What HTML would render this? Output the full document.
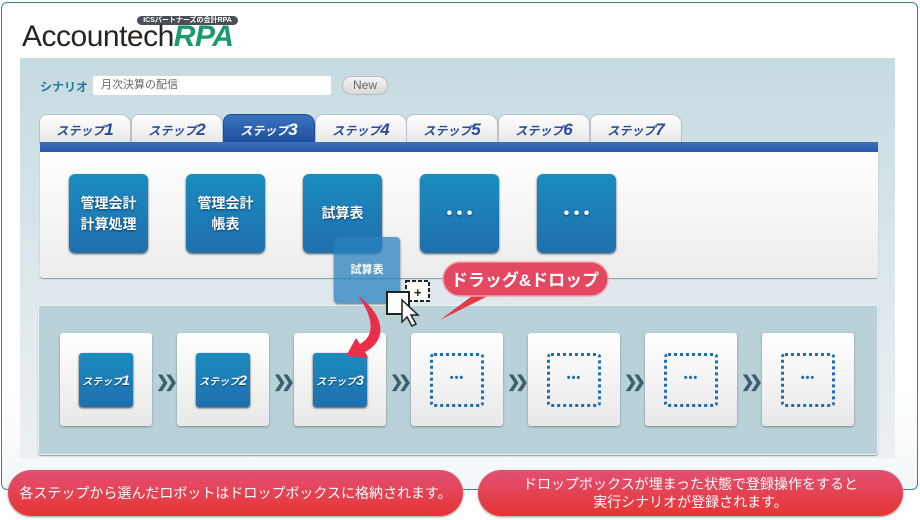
<!DOCTYPE html>
<html><head><meta charset="utf-8"><style>
*{margin:0;padding:0;box-sizing:border-box}
body{width:920px;height:520px;background:#fff;position:relative;overflow:hidden;font-family:"Liberation Sans","Noto Sans CJK JP",sans-serif}
.a{position:absolute}
.outer{left:1px;top:2px;width:917px;height:488px;border:1.5px solid #2f8a86;border-radius:6px;background:linear-gradient(#fff 80%,#f2f6f8)}
.panel{left:20px;top:58px;width:875px;height:400px;background:linear-gradient(#c5dbe1,#dfe9ed 60%,#eaf0f3);}
.tab{top:114px;height:29px;width:92px;border-radius:8px 10px 0 0;background:linear-gradient(#fff,#e6e6e6);border:1px solid #b8c2c6;border-bottom:none;color:#2f4a9c;font-style:italic;font-weight:bold;font-size:12px;text-align:center;line-height:29px}
.tab b{font-size:17px}
.tab.on{background:linear-gradient(#3a73bd,#1f4e9e);color:#fff;border-color:#1f4e9e}
.bar{left:40px;top:142px;width:838px;height:10px;background:linear-gradient(#3d6fbd,#2a58a8)}
.white{left:40px;top:152px;width:838px;height:126px;background:linear-gradient(#fff,#ececec);border-radius:0 0 3px 3px;box-shadow:0 1px 1px #8a9aa0}
.bx{top:174px;width:79px;height:79px;border-radius:6px;background:linear-gradient(#1a8cc0,#1f6fae);box-shadow:0 1px 2px #555;color:#fff;font-weight:bold;font-size:14px;display:flex;align-items:center;justify-content:center;text-align:center;line-height:21px;text-shadow:0 1px 2px #0a3a60}
.low{left:38px;top:305px;width:840px;height:150px;background:#b9d1d8;border-radius:3px;border:1px solid #e8f0f2;box-shadow:0 1px 1px #999}
.slot{top:333px;width:92px;height:93px;background:linear-gradient(#fff,#e8e8e8);border-radius:3px;box-shadow:0 1px 2px #7a8a90}
.ib{position:absolute;left:19px;top:20px;width:54px;height:54px;border-radius:3px;background:linear-gradient(#1a8cc0,#1f6fae);box-shadow:0 1px 2px #444;color:#fff;font-style:italic;font-weight:bold;font-size:10px;display:flex;align-items:center;justify-content:center;text-shadow:0 1px 1px #0a3a60}
.ib b{font-size:14px}
.db{position:absolute;left:19px;top:20px;width:54px;height:54px;border:3px dotted #1d6eb2;border-radius:4px;color:#1d6eb2;font-size:11px;font-weight:bold;text-align:center;line-height:44px;letter-spacing:1px}
.chev{top:372px;color:#3d5f6c;font-size:16px;font-weight:bold;letter-spacing:-5px}
.pill{top:470px;height:46px;border-radius:23px;background:linear-gradient(#e35074,#e53532);color:#fff;font-size:14px;text-align:center;display:flex;align-items:center;justify-content:center;box-shadow:0 1px 2px #999;line-height:18px}
</style></head><body>
<div class="a outer"></div>
<div class="a" style="left:137px;top:16px;width:101px;height:9px;border-radius:5px;background:#4a4f55;color:#fff;font-size:7px;font-weight:bold;text-align:center;line-height:9px">ICSパートナーズの会計RPA</div>
<div class="a" style="left:22px;top:22px;font-size:30px;color:#2a2420;letter-spacing:-0.5px;line-height:30px;font-weight:300">Accountech<span style="color:#1a9a6a;font-weight:bold;font-style:italic">RPA</span></div>
<div class="a panel"></div>
<div class="a" style="left:40px;top:78px;font-size:12px;color:#2a7aa0;font-weight:bold">シナリオ</div>
<div class="a" style="left:92px;top:75px;width:240px;height:21px;background:#fff;border:1px solid #d0dadd;border-radius:3px;font-size:11px;color:#666;padding-left:8px;line-height:19px">月次決算の配信</div>
<div class="a" style="left:342px;top:76px;width:46px;height:19px;border-radius:10px;background:linear-gradient(#f4f4f4,#d8d8d8);border:1px solid #bbb;font-size:12px;color:#666;text-align:center;line-height:17px">New</div>
<div class="a tab" style="left:39px">ステップ<b>1</b></div>
<div class="a tab" style="left:131px">ステップ<b>2</b></div>
<div class="a tab on" style="left:223px">ステップ<b>3</b></div>
<div class="a tab" style="left:315px">ステップ<b>4</b></div>
<div class="a tab" style="left:406px">ステップ<b>5</b></div>
<div class="a tab" style="left:498px">ステップ<b>6</b></div>
<div class="a tab" style="left:590px">ステップ<b>7</b></div>
<div class="a bar"></div>
<div class="a white"></div>
<div class="a bx" style="left:69px">管理会計<br>計算処理</div>
<div class="a bx" style="left:186px">管理会計<br>帳表</div>
<div class="a bx" style="left:303px">試算表</div>
<div class="a bx" style="left:420px;font-size:16px">• • •</div>
<div class="a bx" style="left:537px;font-size:16px">• • •</div>
<div class="a low"></div>
<div class="a slot" style="left:60px"><div class="ib">ステップ<b>1</b></div></div>
<div class="a slot" style="left:177px"><div class="ib">ステップ<b>2</b></div></div>
<div class="a slot" style="left:294px"><div class="ib">ステップ<b>3</b></div></div>
<div class="a slot" style="left:411px"><div class="db">•••</div></div>
<div class="a slot" style="left:528px"><div class="db">•••</div></div>
<div class="a slot" style="left:645px"><div class="db">•••</div></div>
<div class="a slot" style="left:762px"><div class="db">•••</div></div>
<div class="a chev" style="left:156px">❯❯</div>
<div class="a chev" style="left:273px">❯❯</div>
<div class="a chev" style="left:390px">❯❯</div>
<div class="a chev" style="left:507px">❯❯</div>
<div class="a chev" style="left:624px">❯❯</div>
<div class="a chev" style="left:741px">❯❯</div>
<div class="a" style="left:334px;top:237px;width:66px;height:66px;border-radius:4px;background:rgba(40,130,190,0.75);box-shadow:0 1px 2px #666;color:#fff;font-size:11px;font-weight:bold;text-align:center;line-height:66px">試算表</div>
<svg class="a" style="left:0;top:0" width="920" height="520">
<path d="M358 296 C385 315 388 340 365 352 L368 358 L346 356 L356 338 L360 344 C375 336 374 318 358 296Z" fill="#e8304a"/>
<rect x="406" y="281" width="23" height="20" fill="#fff" stroke="#222" stroke-width="2" stroke-dasharray="4 2"/>
<text x="414" y="297" font-size="13" font-weight="bold" fill="#222">+</text>
<rect x="387" y="292" width="22" height="22" fill="#fff" stroke="#222" stroke-width="2"/>
<path d="M402 300 L402 322 L407 317 L412 326 L416 324 L411 315 L418 315Z" fill="#fff" stroke="#222" stroke-width="1.5"/>
<path d="M440 320 L480 290 L500 290Z" fill="#e23a48"/>
<rect x="443" y="262" width="165" height="34" rx="17" fill="#e34860" stroke="#f5a0b0" stroke-width="1.5"/>
<text x="525" y="286" font-size="17" font-weight="bold" fill="#fff" text-anchor="middle" font-family="Liberation Sans,Noto Sans CJK JP,sans-serif">ドラッグ&amp;ドロップ</text>
</svg>
<div class="a pill" style="left:8px;width:455px">各ステップから選んだロボットはドロップボックスに格納されます。</div>
<div class="a pill" style="left:478px;width:425px">ドロップボックスが埋まった状態で登録操作をすると<br>実行シナリオが登録されます。</div>
</body></html>
